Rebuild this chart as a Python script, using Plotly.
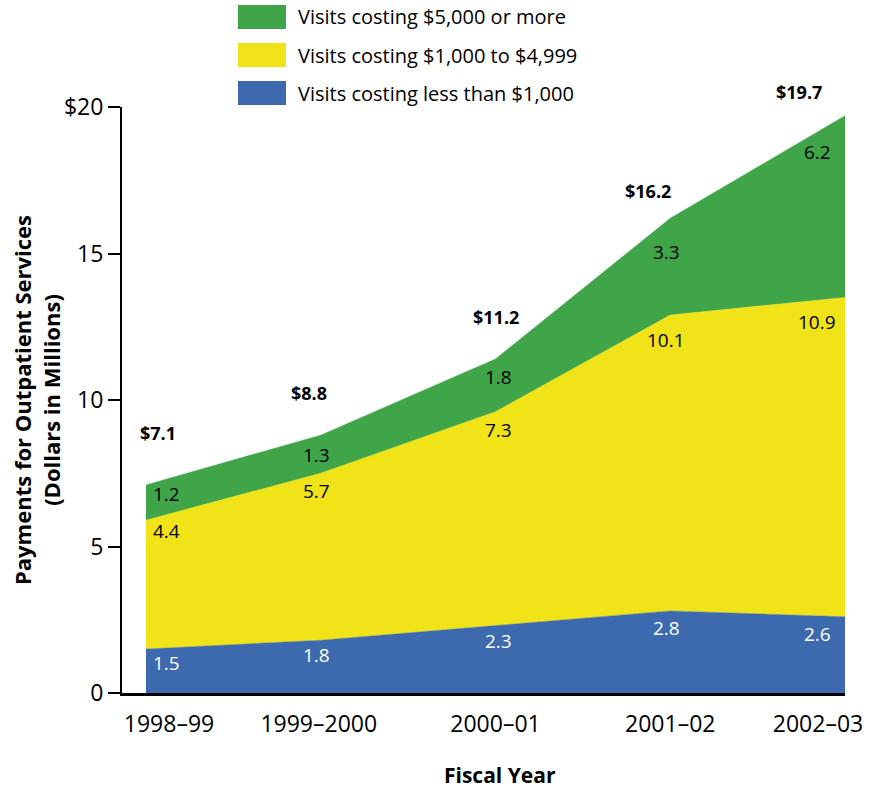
import plotly.graph_objects as go

# Fiscal years and outpatient payments (millions of dollars) by visit cost band
years = ["1998–99", "1999–2000", "2000–01", "2001–02", "2002–03"]
under_1000 = [1.5, 1.8, 2.3, 2.8, 2.6]
from_1000_to_4999 = [4.4, 5.7, 7.3, 10.1, 10.9]
over_5000 = [1.2, 1.3, 1.8, 3.3, 6.2]
totals = ["$7.1", "$8.8", "$11.2", "$16.2", "$19.7"]

y_tick_values = [0, 5, 10, 15, 20]
y_tick_labels = ["0", "5", "10", "15", "$20"]

BLUE = "#3D6AAE"
YELLOW = "#F0E318"
GREEN = "#3FA548"
FONT = "Open Sans"

W, H = 880, 788
L, R, T, B = 122, 35, 107, 95
PW, PH = W - L - R, H - T - B

x = list(range(len(years)))

fig = go.Figure()
for name, vals, color in [
    ("Visits costing less than $1,000", under_1000, BLUE),
    ("Visits costing $1,000 to $4,999", from_1000_to_4999, YELLOW),
    ("Visits costing $5,000 or more", over_5000, GREEN),
]:
    fig.add_trace(go.Scatter(
        x=x, y=vals, name=name, stackgroup="pay", mode="lines",
        line=dict(width=0.5, color=color), fillcolor=color,
        showlegend=False, hoverinfo="skip",
    ))

# value labels inside each band, just below its upper edge
label_dx = [20, -4, 3, -4, -28]
drops = {
    "blue": [14, 15, 15, 17, 17],
    "yellow": [11, 18, 18, 25, 25],
    "green": [9, 20, 18, 34, 36],
}
total_dx = [12, -12, 0, -22, -46]
total_rise = [52, 42, 42, 27, 24]

annotations = []
cum = [0.0] * len(x)
for vals, key, color in [(under_1000, "blue", "white"),
                         (from_1000_to_4999, "yellow", "black"),
                         (over_5000, "green", "black")]:
    cum = [c + v for c, v in zip(cum, vals)]
    for i, (v, top) in enumerate(zip(vals, cum)):
        annotations.append(dict(
            x=i, y=top, xref="x", yref="y", text=f"{v:.1f}", showarrow=False,
            xshift=label_dx[i], yshift=-drops[key][i], yanchor="middle",
            font=dict(family=FONT, size=19, color=color),
        ))
for i, (t, top) in enumerate(zip(totals, cum)):
    annotations.append(dict(
        x=i, y=top, xref="x", yref="y", text=f"<b>{t}</b>", showarrow=False,
        xshift=total_dx[i], yshift=total_rise[i], yanchor="middle",
        font=dict(family=FONT, size=18, color="black"),
    ))


def px_x(p):
    return (p - L) / PW


def px_y(p):
    return (H - B - p) / PH


# legend drawn as swatches with text beside them
legend_rows = [("Visits costing $5,000 or more", GREEN),
               ("Visits costing $1,000 to $4,999", YELLOW),
               ("Visits costing less than $1,000", BLUE)]
shapes = []
for k, (label, color) in enumerate(legend_rows):
    top = 5 + 38 * k
    shapes.append(dict(type="rect", xref="paper", yref="paper",
                       x0=px_x(238), x1=px_x(286), y0=px_y(top + 24), y1=px_y(top),
                       fillcolor=color, line=dict(width=0)))
    annotations.append(dict(x=px_x(296), y=px_y(top + 12), xref="paper", yref="paper",
                            text=label, showarrow=False, xanchor="left", yanchor="middle",
                            font=dict(family=FONT, size=20, color="black")))

# axis titles
annotations.append(dict(x=px_x(500), y=px_y(775), xref="paper", yref="paper",
                        text="<b>Fiscal Year</b>", showarrow=False,
                        xanchor="center", yanchor="middle",
                        font=dict(family=FONT, size=21, color="black")))
annotations.append(dict(x=px_x(36), y=px_y(400), xref="paper", yref="paper",
                        text="<b>Payments for Outpatient Services<br>(Dollars in Millions)</b>",
                        showarrow=False, textangle=-90,
                        xanchor="center", yanchor="middle",
                        font=dict(family=FONT, size=22, color="black")))

tick_pos = [i + d / 174.75 for i, d in enumerate([23, -2, 0, 0, -27])]

fig.update_layout(
    width=W, height=H,
    margin=dict(l=L, r=R, t=T, b=B),
    paper_bgcolor="white", plot_bgcolor="white",
    shapes=shapes, annotations=annotations,
    xaxis=dict(range=[-24 / 174.75, 4.0], showgrid=False, zeroline=False,
               showline=True, linecolor="black", linewidth=3,
               tickmode="array", tickvals=tick_pos, ticktext=years,
               ticks="", ticklabelstandoff=8,
               tickfont=dict(family=FONT, size=23, color="black")),
    yaxis=dict(range=[0, 20], showgrid=False, zeroline=False,
               showline=True, linecolor="black", linewidth=2,
               tickmode="array", tickvals=y_tick_values, ticktext=y_tick_labels,
               ticks="outside", ticklen=12, tickwidth=1.5, tickcolor="black",
               tickfont=dict(family=FONT, size=23, color="black")),
)

fig.write_html("out.html")
